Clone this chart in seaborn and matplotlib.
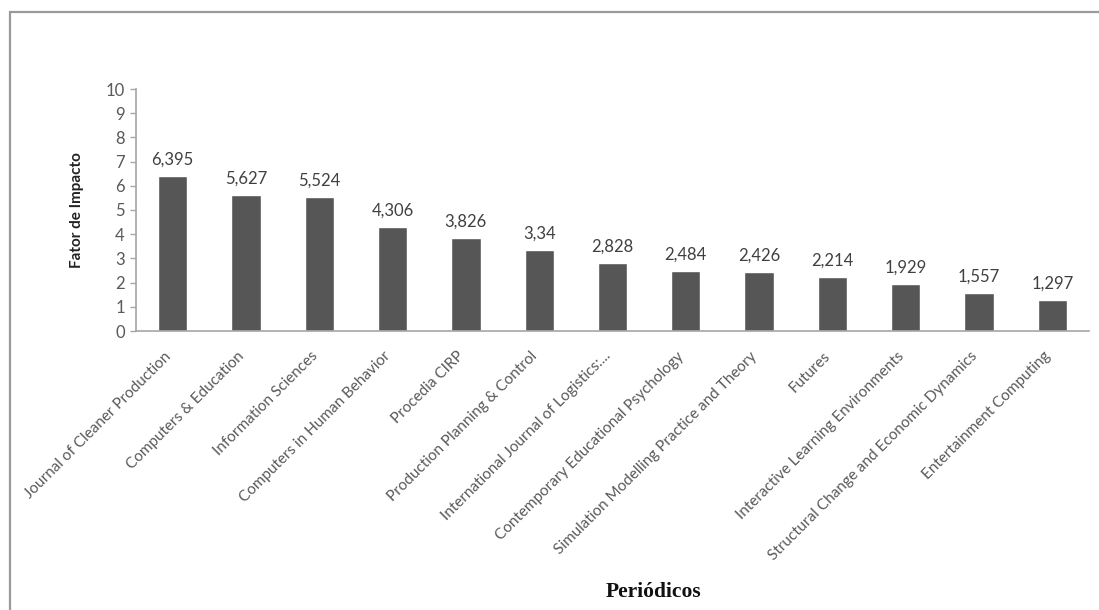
import matplotlib
matplotlib.use("Agg")
import matplotlib.pyplot as plt
import matplotlib.transforms as mtransforms
import seaborn as sns
from matplotlib.patches import Rectangle

periodicos = [
    "Journal of Cleaner Production",
    "Computers & Education",
    "Information Sciences",
    "Computers in Human Behavior",
    "Procedia CIRP",
    "Production Planning & Control",
    "International Journal of Logistics:...",
    "Contemporary Educational Psychology",
    "Simulation Modelling Practice and Theory",
    "Futures",
    "Interactive Learning Environments",
    "Structural Change and Economic Dynamics",
    "Entertainment Computing",
]
fator_impacto = [6.395, 5.627, 5.524, 4.306, 3.826, 3.34, 2.828,
                 2.484, 2.426, 2.214, 1.929, 1.557, 1.297]
yticks = list(range(0, 11))

sns.set_style("white")
plt.rcParams['font.family'] = ['Lato', 'DejaVu Sans']

grey_txt = "#595959"
bar_col = "#565656"

fig = plt.figure(figsize=(10.99, 6.10), dpi=100)
ax = fig.add_axes([136 / 1099, 1 - 331 / 610, (1089 - 136) / 1099, (331 - 89) / 610])

sns.barplot(x=periodicos, y=fator_impacto, color=bar_col, width=0.4,
            saturation=1, ax=ax)

labels = [str(v).replace('.', ',') for v in fator_impacto]
ax.bar_label(ax.containers[0], labels=labels, padding=6, fontsize=12,
             color="#404040")

ax.set_ylim(0, 10)
ax.set_yticks(yticks)
ax.set_yticklabels([str(t) for t in yticks], fontsize=12, color=grey_txt)
ax.set_xlim(-0.5, len(periodicos) - 0.5)
ax.set_xticks(range(len(periodicos)))
ax.set_xticklabels(periodicos, rotation=45, ha='right',
                   rotation_mode='anchor', fontsize=11, color=grey_txt)
ax.tick_params(axis='x', length=0, pad=13)
ax.tick_params(axis='y', length=4, width=1, color="#a6a6a6", left=True,
               direction='out', pad=4)

# nudge rotated labels left so their ends sit under the bars
shift = mtransforms.ScaledTranslation(-9 / 100, 0, fig.dpi_scale_trans)
for lbl in ax.get_xticklabels():
    lbl.set_transform(lbl.get_transform() + shift)

for s in ['top', 'right']:
    ax.spines[s].set_visible(False)
for s in ['left', 'bottom']:
    ax.spines[s].set_color("#a6a6a6")
    ax.spines[s].set_linewidth(1.2)

ax.set_xlabel("")
ax.set_ylabel("Fator de Impacto", fontsize=11, fontweight='bold',
              color="#222222")
ax.yaxis.set_label_coords(-0.055, 0.5)

fig.text(654 / 1099, 1 - 592 / 610, "Periódicos", ha='center', va='center',
         fontsize=15.5, fontweight='bold', family='Liberation Serif',
         color="#111111")

# outer frame of the figure box
fig.patches.append(Rectangle((10 / 1099, -0.05), 1.1, 1 - 12 / 610 + 0.05,
                             transform=fig.transFigure, fill=False,
                             edgecolor="#9a9a9a", linewidth=1.6))

fig.savefig("out.png", dpi=100)
